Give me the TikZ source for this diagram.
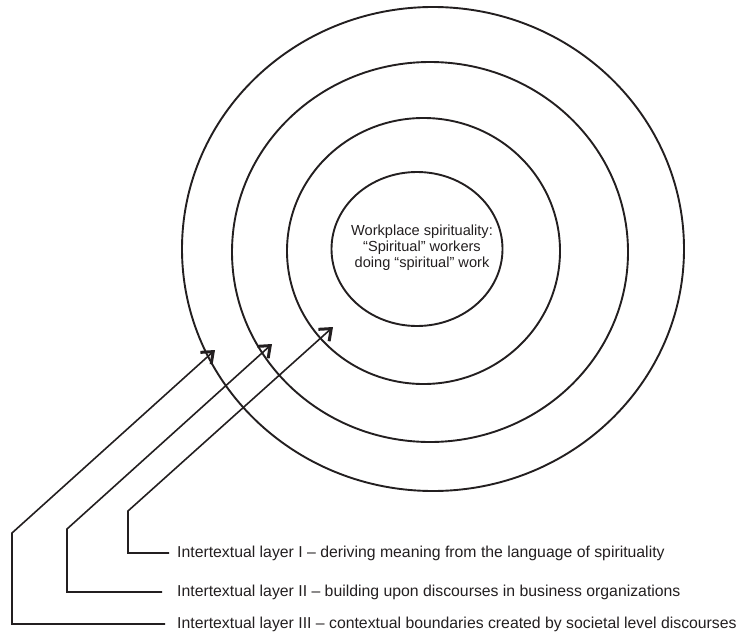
\documentclass[tikz,border=0pt]{standalone}
\usepackage{fontspec}
\setmainfont{Liberation Sans}
\usetikzlibrary{arrows.meta,shapes.geometric}
\definecolor{ink}{HTML}{231F20}
\begin{document}
\begin{tikzpicture}[x=1pt,y=-1pt,
  ring/.style={draw=ink, line width=1.9pt},
  lead/.style={draw=ink, line width=1.6pt},
  arr/.style={lead, -{Straight Barb[length=10pt,width=16pt,line width=3pt]}},
  lbl/.style={anchor=west, inner sep=0pt, font=\fontsize{15.8}{18}\selectfont, text=ink},
  core/.style={ellipse, ring, inner sep=0pt, minimum width=171pt, minimum height=154pt}]
\useasboundingbox (0,0) rectangle (741,634);
% rings
\draw[ring] (433,249) ellipse [x radius=251, y radius=242];
\draw[ring] (430,252) ellipse [x radius=198, y radius=190];
\draw[ring] (423.5,251) ellipse [x radius=136.5, y radius=133];
\node[core] (core) at (417,249) {};
\node[align=center, inner sep=0pt, font=\fontsize{14.6}{16}\selectfont, text=ink] (coretext) at (422,248)
  {Workplace spirituality:\\“Spiritual” workers\\doing “spiritual” work};
% labels
\node[lbl] (L1) at (177,553) {Intertextual layer I – deriving meaning from the language of spirituality};
\node[lbl] (L2) at (177,592) {Intertextual layer II – building upon discourses in business organizations};
\node[lbl] (L3) at (177,624) {Intertextual layer III – contextual boundaries created by societal level discourses};
% leader coordinates
\coordinate (e1) at (169,553); \coordinate (b1) at (128,553); \coordinate (c1) at (128,511); \coordinate (t1) at (333,327);
\coordinate (e2) at (162,592); \coordinate (b2) at (67,592);  \coordinate (c2) at (67,529);  \coordinate (t2) at (272,344);
\coordinate (e3) at (165,624); \coordinate (b3) at (12,624);  \coordinate (c3) at (12,533);  \coordinate (t3) at (215,350);
\draw[arr] (e1) -- (b1) -- (c1) -- (t1);
\draw[arr] (e2) -- (b2) -- (c2) -- (t2);
\draw[arr] (e3) -- (b3) -- (c3) -- (t3);
\end{tikzpicture}
\end{document}
